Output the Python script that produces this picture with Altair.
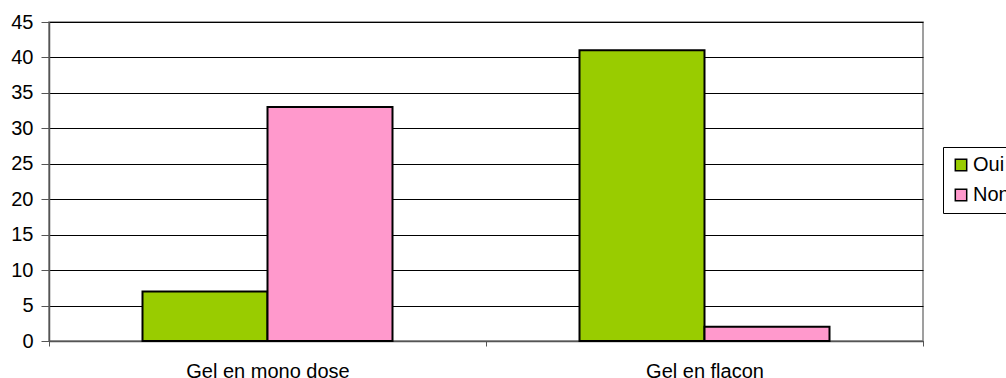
import altair as alt
import pandas as pd

categories = ["Gel en mono dose", "Gel en mono dose", "Gel en flacon", "Gel en flacon"]
series = ["Oui", "Non", "Oui", "Non"]
values = [7, 33, 41, 2]

df = pd.DataFrame({"cat": categories, "serie": series, "val": values})

font = "Liberation Sans"

chart = alt.Chart(df).mark_bar(stroke="black", strokeWidth=2).encode(
    x=alt.X("cat:N", sort=["Gel en mono dose", "Gel en flacon"], title=None,
            scale=alt.Scale(paddingInner=0, paddingOuter=0),
            axis=alt.Axis(labelAngle=0, tickBand="extent", tickSize=5, tickColor="#555555",
                          domainColor="#555555", domainWidth=1.5, labelPadding=15,
                          labelFontSize=20, labelFont=font, labelColor="black", grid=False)),
    xOffset=alt.XOffset("serie:N", sort=["Oui", "Non"],
                        scale=alt.Scale(paddingInner=0, paddingOuter=0.748)),
    y=alt.Y("val:Q", title=None,
            scale=alt.Scale(domain=[0, 45], nice=False),
            axis=alt.Axis(values=list(range(0, 50, 5)), tickSize=8, tickColor="#555555",
                          domainColor="#555555", domainWidth=1.5, labelPadding=8,
                          labelFontSize=20, labelFont=font, labelColor="black",
                          grid=True, gridColor="#000000", gridWidth=1)),
    color=alt.Color("serie:N", sort=["Oui", "Non"],
                    scale=alt.Scale(domain=["Oui", "Non"], range=["#99CC00", "#FF99CC"]),
                    legend=alt.Legend(title=None, orient="none", legendX=894, legendY=125,
                                      strokeColor="black", padding=8, symbolType="square",
                                      symbolSize=130, symbolStrokeColor="black",
                                      symbolStrokeWidth=1.5, symbolOpacity=1,
                                      labelFontSize=20, labelFont=font, labelColor="black",
                                      rowPadding=10, labelOffset=2)),
).properties(
    width=874, height=319,
    autosize=alt.AutoSizeParams(type="none"),
    padding={"left": 49, "top": 22, "right": 83, "bottom": 37},
).configure_view(stroke="#808080", strokeWidth=1.5)

chart.save("out.html", embed_options={"renderer": "svg", "actions": False})
